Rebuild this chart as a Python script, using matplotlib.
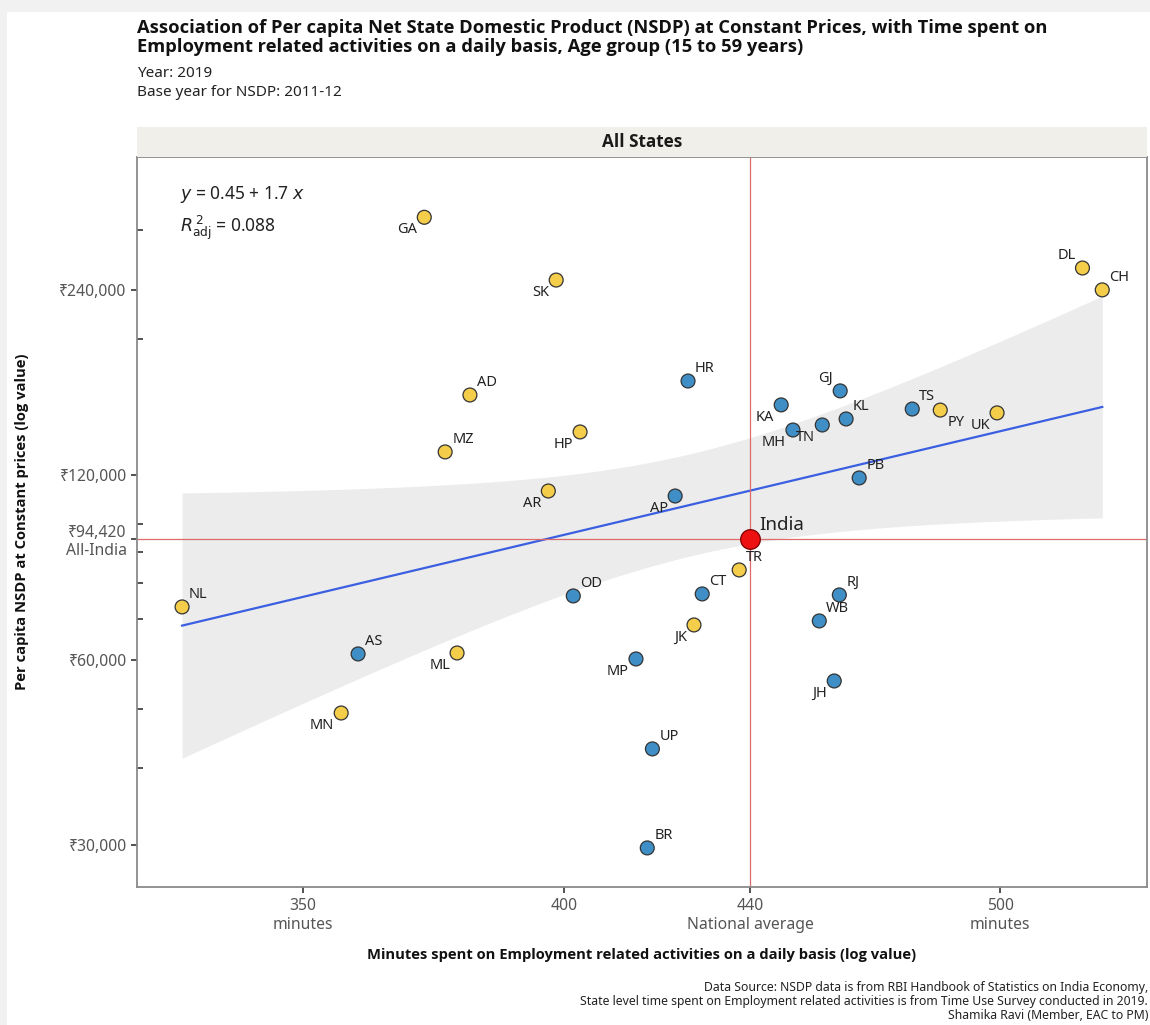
import numpy as np
import matplotlib
matplotlib.use("Agg")
import matplotlib.pyplot as plt
from matplotlib import font_manager
from matplotlib.patches import Rectangle

# State-wise minutes on employment related activities vs per capita NSDP (2019)
states = ["GA", "SK", "AD", "MZ", "HP", "AR", "HR", "AP", "KA", "GJ", "MH",
          "TN", "KL", "TS", "PY", "UK", "DL", "CH", "PB", "TR", "CT", "RJ",
          "WB", "JK", "OD", "MP", "JH", "UP", "BR", "ML", "AS", "MN", "NL"]
minutes = [372.4, 398.4, 381.2, 376.4, 403.3, 396.8, 426.2, 423.4, 447.0,
           460.7, 449.7, 456.5, 462.1, 478.0, 484.9, 499.2, 521.5, 526.8,
           465.2, 437.5, 429.3, 460.5, 455.8, 427.5, 401.9, 415.0, 459.3,
           418.5, 417.4, 378.7, 360.0, 356.9, 329.0]
nsdp = [315000, 249000, 161900, 130800, 140970, 113000, 170600, 110900,
        156000, 164400, 142000, 144700, 148000, 153600, 153000, 151400,
        260500, 240000, 118660, 84070, 76850, 76560, 69460, 68420, 76270,
        60240, 55470, 43010, 29680, 61600, 61380, 49200, 73200]
# "large" = major states, "small" = smaller states and UTs
group = ["small", "small", "small", "small", "small", "small", "large",
         "large", "large", "large", "large", "large", "large", "large",
         "small", "small", "small", "small", "large", "small", "large",
         "large", "large", "small", "large", "large", "large", "large",
         "large", "small", "large", "small", "small"]

india_minutes = 440
india_nsdp = 94420

x_ticks = [350, 400, 440, 500]
x_tick_labels = ["350\nminutes", "400", "440\nNational average", "500\nminutes"]
y_ticks = [30000, 60000, 94420, 120000, 240000]
y_tick_labels = ["₹30,000", "₹60,000", "₹94,420\nAll-India", "₹120,000", "₹240,000"]
y_minor = [40000, 50000, 70000, 80000, 90000, 100000, 200000, 300000]

# where each label sits relative to its point
label_pos = {
    "GA": "ld", "SK": "ld", "AD": "ru", "MZ": "ru", "HP": "ld", "AR": "ld",
    "HR": "ru", "AP": "ld", "KA": "ld", "GJ": "lu", "MH": "ld", "TN": "ld",
    "KL": "ru", "TS": "ru", "PY": "rd", "UK": "ld", "DL": "lu", "CH": "ru",
    "PB": "ru", "TR": "ru", "CT": "ru", "RJ": "ru", "WB": "ru", "JK": "ld",
    "OD": "ru", "MP": "ld", "JH": "ld", "UP": "ru", "BR": "ru", "ML": "ld",
    "AS": "ru", "MN": "ld", "NL": "ru",
}


def has_bold(name):
    for f in font_manager.fontManager.ttflist:
        if f.name == name and f.weight in (600, 700, 800, "bold", "semibold"):
            return True
    return False


installed = {f.name for f in font_manager.fontManager.ttflist}
base_font = next((f for f in ["Noto Sans", "Open Sans", "Roboto"] if f in installed),
                 "DejaVu Sans")
bold_font = next((f for f in ["Liberation Sans Narrow", "Open Sans", "Noto Sans",
                              "Roboto", "Lato"] if has_bold(f)), "DejaVu Sans")
plt.rcParams["font.family"] = [base_font, "DejaVu Sans"]
bold_family = [bold_font, "DejaVu Sans"]

colors = {"large": "#3f8fc6", "small": "#f4cd4a"}

fig = plt.figure(figsize=(11.5, 10.25), dpi=100)
W, H = 1150, 1025

# light card edge
fig.patches.append(Rectangle((0, 1 - 12 / H), 1, 12 / H, transform=fig.transFigure,
                             facecolor="#f1f1f1", edgecolor="none", zorder=0))
fig.patches.append(Rectangle((0, 0), 7 / W, 1, transform=fig.transFigure,
                             facecolor="#f1f1f1", edgecolor="none", zorder=0))

ax = fig.add_axes([137 / W, 1 - 887 / H, 1010 / W, 730 / H])
ax.set_xscale("log")
ax.set_yscale("log")
ax.set_xlim(321.5, 539)
ax.set_ylim(25640, 394800)

# linear fit in log10 space with 95% confidence band
lx = np.log10(minutes)
ly = np.log10(nsdp)
n = len(lx)
slope, intercept = np.polyfit(lx, ly, 1)
pred = intercept + slope * lx
resid = ly - pred
ss_res = np.sum(resid ** 2)
ss_tot = np.sum((ly - ly.mean()) ** 2)
r2 = 1 - ss_res / ss_tot
r2_adj = 1 - (1 - r2) * (n - 1) / (n - 2)
s = np.sqrt(ss_res / (n - 2))
t_crit = 2.0395  # t(0.975, df=31)
grid = np.linspace(lx.min(), lx.max(), 200)
fit = intercept + slope * grid
se = s * np.sqrt(1 / n + (grid - lx.mean()) ** 2 / np.sum((lx - lx.mean()) ** 2))
ax.fill_between(10 ** grid, 10 ** (fit - t_crit * se), 10 ** (fit + t_crit * se),
                color="#ececec", linewidth=0, zorder=1)
ax.plot(10 ** grid, 10 ** fit, color="#3a5fe0", linewidth=1.6, zorder=2)

ax.axvline(india_minutes, color="#e06a6a", linewidth=0.9, zorder=2)
ax.axhline(india_nsdp, color="#e06a6a", linewidth=0.9, zorder=2)

ax.scatter(minutes, nsdp, s=100, c=[colors[g] for g in group],
           edgecolors="#333333", linewidths=0.9, zorder=3)
ax.scatter([india_minutes], [india_nsdp], s=200, c="#ee1111",
           edgecolors="#7a0000", linewidths=0.9, zorder=4)
ax.annotate("India", (india_minutes, india_nsdp), xytext=(9, 5),
            textcoords="offset pixels", fontsize=13.5, color="#222222",
            ha="left", va="bottom", zorder=5)

offsets = {"ru": (7, 5, "left", "bottom"), "rd": (7, -5, "left", "top"),
           "ld": (-7, -5, "right", "top"), "lu": (-7, 5, "right", "bottom")}
for st, xv, yv in zip(states, minutes, nsdp):
    dx, dy, ha, va = offsets[label_pos[st]]
    ax.annotate(st, (xv, yv), xytext=(dx, dy), textcoords="offset pixels",
                fontsize=10.5, color="#222222", ha=ha, va=va, zorder=5)

ax.text(0.043, 0.948, r"$\it{y}$ = %.2f + %.1f $\it{x}$" % (intercept, slope),
        transform=ax.transAxes, fontsize=12.5, color="#222222", va="center")
ax.text(0.043, 0.903, r"$\it{R}^{\,2}_{\mathrm{adj}}$ = %.3f" % r2_adj,
        transform=ax.transAxes, fontsize=12.5, color="#222222", va="center")

ax.xaxis.set_major_locator(matplotlib.ticker.FixedLocator(x_ticks))
ax.xaxis.set_major_formatter(matplotlib.ticker.FixedFormatter(x_tick_labels))
ax.xaxis.set_minor_locator(matplotlib.ticker.FixedLocator([400, 500]))
ax.xaxis.set_minor_formatter(matplotlib.ticker.NullFormatter())
ax.yaxis.set_major_locator(matplotlib.ticker.FixedLocator(y_ticks))
ax.yaxis.set_major_formatter(matplotlib.ticker.FixedFormatter(y_tick_labels))
ax.yaxis.set_minor_locator(matplotlib.ticker.FixedLocator(y_minor))
ax.yaxis.set_minor_formatter(matplotlib.ticker.NullFormatter())

ax.tick_params(axis="both", which="major", direction="out", length=4,
               width=1.2, color="#333333", labelcolor="#555555", labelsize=11.3)
ax.tick_params(axis="both", which="minor", direction="in", length=4,
               width=1.2, color="#333333")
ax.tick_params(axis="x", which="major", pad=4)
for sp in ax.spines.values():
    sp.set_color("#8a8a8a")
    sp.set_linewidth(1.3)

ax.set_xlabel("Minutes spent on Employment related activities on a daily basis (log value)",
              family=bold_family, fontsize=10.6, fontweight="bold", labelpad=11,
              color="#111111")
ax.set_ylabel("Per capita NSDP at Constant prices (log value)",
              family=bold_family, fontsize=10.6, fontweight="bold", labelpad=22,
              color="#111111")

# facet strip
strip = fig.add_axes([137 / W, 1 - 157 / H, 1010 / W, 30 / H])
strip.set_facecolor("#f0efe9")
strip.set_xticks([])
strip.set_yticks([])
for sp in strip.spines.values():
    sp.set_visible(False)
strip.text(0.5, 0.5, "All States", ha="center", va="center", fontsize=12.3,
           family=bold_family, fontweight="bold", color="#1a1a1a",
           transform=strip.transAxes)

fig.text(137 / W, 1 - 19 / H,
         "Association of Per capita Net State Domestic Product (NSDP) at Constant Prices, with Time spent on\n"
         "Employment related activities on a daily basis, Age group (15 to 59 years)",
         family=bold_family, fontsize=13.2, fontweight="bold",
         va="top", ha="left", color="#111111", linespacing=1.1)
fig.text(137 / W, 1 - 66 / H, "Year: 2019", fontsize=11, va="top", color="#222222")
fig.text(137 / W, 1 - 85 / H, "Base year for NSDP: 2011-12", fontsize=11,
         va="top", color="#222222")

fig.text(1148 / W, 3 / H,
         "Data Source: NSDP data is from RBI Handbook of Statistics on India Economy,\n"
         "State level time spent on Employment related activities is from Time Use Survey conducted in 2019.\n"
         "Shamika Ravi (Member, EAC to PM)",
         fontsize=8.8, ha="right", va="bottom", color="#222222", linespacing=1.12)

fig.savefig("out.png", dpi=100, facecolor="white")
